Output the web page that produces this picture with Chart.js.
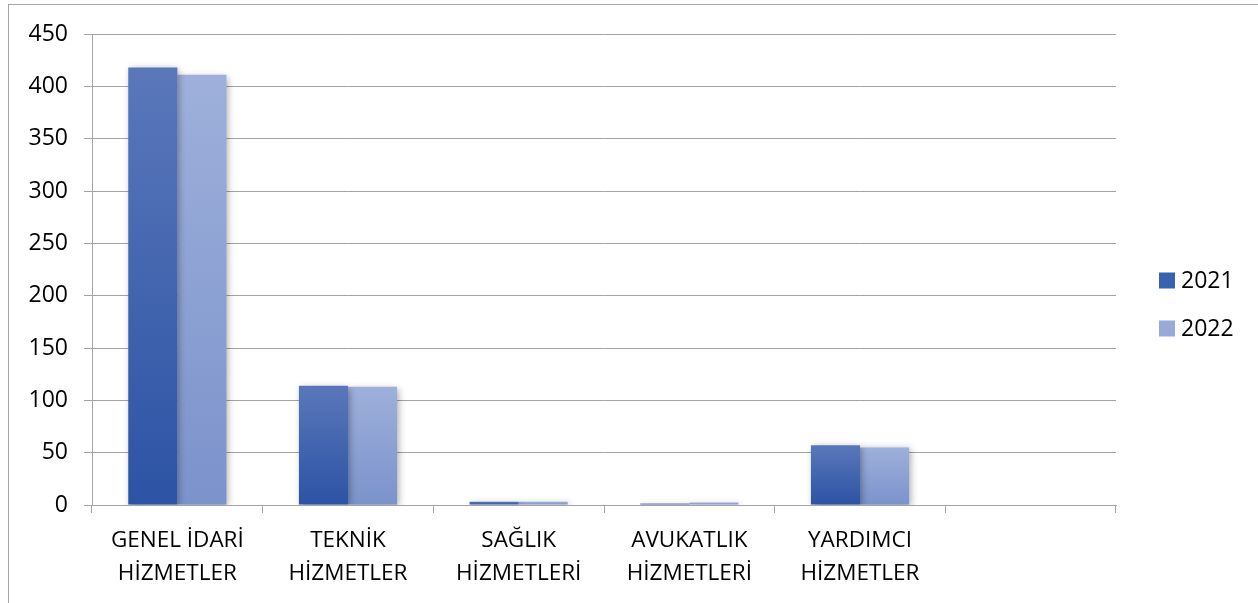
<!DOCTYPE html>
<html lang="tr">
<head>
  <meta charset="UTF-8">
  <title>Personel Dağılımı 2021 - 2022</title>
  <script src="https://cdn.jsdelivr.net/npm/chart.js"></script>
  <style>
    body {
      margin: 0;
      background: #fff;
      overflow: hidden;
    }
    #wrap {
      position: relative;
      width: 1258px;
      height: 603px;
    }
    #frame {
      position: absolute;
      left: 8px;
      top: 4px;
      width: 1400px;
      height: 800px;
      border: 1px solid #a6a6a6;
    }
    canvas {
      position: absolute;
      left: 0;
      top: 0;
    }
  </style>
</head>
<body>
  <div id="wrap">
    <div id="frame"></div>
    <canvas id="chart" width="1258" height="603"></canvas>
  </div>

  <script>
    // veriler
    const categories = [
      ['GENEL İDARİ', 'HİZMETLER'],
      ['TEKNİK', 'HİZMETLER'],
      ['SAĞLIK', 'HİZMETLERİ'],
      ['AVUKATLIK', 'HİZMETLERİ'],
      ['YARDIMCI', 'HİZMETLER'],
      ''
    ];
    const seriesNames = ['2021', '2022'];
    const values2021 = [418, 114, 3, 1.5, 57, null];
    const values2022 = [411, 113, 3, 2.5, 55, null];
    const yTicks = [0, 50, 100, 150, 200, 250, 300, 350, 400, 450];

    const FONT = '"Open Sans", "Liberation Sans", sans-serif';
    const gridColor = '#a3a3a3';

    // renk geçişleri (üst, alt)
    const palette = [
      { top: '#5a77ba', bottom: '#2c53a4', legend: '#3a60b0' },
      { top: '#9eb0db', bottom: '#7b92cb', legend: '#98aad8' }
    ];

    function barGradient(idx) {
      return function(context) {
        const chart = context.chart;
        const c = palette[idx];
        if (!chart.chartArea || context.raw == null) return c.bottom;
        const y = chart.scales.y;
        const top = y.getPixelForValue(context.raw);
        const bottom = y.getPixelForValue(0);
        if (bottom - top < 1) return c.bottom;
        const g = chart.ctx.createLinearGradient(0, top, 0, bottom);
        g.addColorStop(0, c.top);
        g.addColorStop(1, c.bottom);
        return g;
      };
    }

    const shadowPlugin = {
      id: 'barShadow',
      beforeDatasetsDraw(chart) {
        const ctx = chart.ctx;
        ctx.save();
        ctx.shadowColor = 'rgba(0,0,0,0.35)';
        ctx.shadowBlur = 7;
        ctx.shadowOffsetX = 2;
        ctx.shadowOffsetY = 2;
      },
      afterDatasetsDraw(chart) {
        chart.ctx.restore();
      }
    };

    // sağdaki açıklama kutusu
    const legendPlugin = {
      id: 'sideLegend',
      afterDraw(chart) {
        const ctx = chart.ctx;
        const x = chart.chartArea.right + 43;
        const mid = chart.height / 2 + 3;
        ctx.save();
        ctx.font = '23px ' + FONT;
        ctx.textBaseline = 'middle';
        chart.data.datasets.forEach((ds, i) => {
          const cy = mid + (i - 0.5) * 48;
          ctx.fillStyle = palette[i].legend;
          ctx.fillRect(x, cy - 8, 16, 16);
          ctx.fillStyle = '#000';
          ctx.fillText(ds.label, x + 22, cy + 1);
        });
        ctx.restore();
      }
    };

    const ctx = document.getElementById('chart').getContext('2d');
    new Chart(ctx, {
      type: 'bar',
      data: {
        labels: categories,
        datasets: [
          {
            label: seriesNames[0],
            data: values2021,
            backgroundColor: barGradient(0),
            categoryPercentage: 0.575,
            barPercentage: 1
          },
          {
            label: seriesNames[1],
            data: values2022,
            backgroundColor: barGradient(1),
            categoryPercentage: 0.575,
            barPercentage: 1
          }
        ]
      },
      options: {
        responsive: false,
        animation: false,
        layout: {
          padding: { top: 34, right: 142, bottom: 0, left: 0 }
        },
        plugins: {
          legend: { display: false },
          tooltip: { enabled: false }
        },
        scales: {
          x: {
            offset: true,
            grid: {
              offset: true,
              drawOnChartArea: false,
              color: gridColor,
              tickLength: 8
            },
            border: { color: gridColor },
            ticks: {
              color: '#000',
              padding: 11,
              maxRotation: 0,
              autoSkip: false,
              font: { family: FONT, size: 22.5, lineHeight: 1.47 }
            },
            afterFit(scale) { scale.height = 98; }
          },
          y: {
            min: 0,
            max: 450,
            afterBuildTicks(scale) {
              scale.ticks = yTicks.map(v => ({ value: v }));
            },
            grid: {
              color: gridColor,
              tickLength: 8
            },
            border: { color: gridColor },
            ticks: {
              color: '#000',
              padding: 16,
              font: { family: FONT, size: 23 }
            },
            afterFit(scale) { scale.width = 92; }
          }
        }
      },
      plugins: [shadowPlugin, legendPlugin]
    });
  </script>
</body>
</html>
